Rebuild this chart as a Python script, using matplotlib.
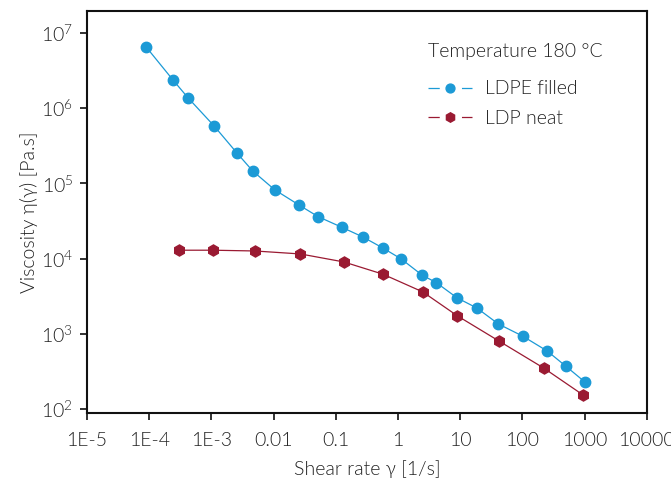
import matplotlib
matplotlib.use("Agg")
import matplotlib.pyplot as plt
from matplotlib.ticker import FixedLocator, NullLocator, LogFormatterMathtext

plt.rcParams['font.family'] = ['Lato', 'DejaVu Sans']
plt.rcParams['font.weight'] = 300
plt.rcParams['mathtext.default'] = 'regular'

# shear rate [1/s] and viscosity [Pa.s]
rate_filled = [8.9e-5, 2.4e-4, 4.2e-4, 1.1e-3, 2.6e-3, 4.6e-3, 1.04e-2, 2.6e-2,
               5.2e-2, 0.125, 0.27, 0.57, 1.12, 2.45, 4.1, 8.9, 18.5, 41.0,
               101.0, 250.0, 500.0, 1000.0]
visc_filled = [6.5e6, 2.37e6, 1.37e6, 5.8e5, 2.5e5, 1.46e5, 8.2e4, 5.1e4,
               3.6e4, 2.6e4, 1.94e4, 1.38e4, 9.9e3, 6.0e3, 4.8e3, 3.0e3,
               2.2e3, 1.35e3, 9.3e2, 5.9e2, 3.7e2, 2.3e2]

rate_neat = [3.0e-4, 1.05e-3, 5.0e-3, 2.7e-2, 0.135, 0.57, 2.5, 9.0, 42.0, 220.0, 950.0]
visc_neat = [1.29e4, 1.29e4, 1.26e4, 1.15e4, 9.0e3, 6.2e3, 3.6e3, 1.73e3, 8.0e2, 3.5e2, 1.53e2]

x_ticks = [1e-5, 1e-4, 1e-3, 1e-2, 1e-1, 1, 10, 100, 1000, 10000]
x_labels = ["1E-5", "1E-4", "1E-3", "0.01", "0.1", "1", "10", "100", "1000", "10000"]
y_ticks = [1e2, 1e3, 1e4, 1e5, 1e6, 1e7]

blue = "#1c9ad6"
red = "#9a1a32"
ink = "#222222"
lw = 0.9

fig = plt.figure(figsize=(6.71, 4.78), dpi=100)
ax = fig.add_axes([0.1297, 0.136, 0.8343, 0.841])

ax.plot(rate_filled, visc_filled, color=blue, lw=lw, marker='o', ms=7.5,
        mec=blue, mfc=blue, label="LDPE filled")
ax.plot(rate_neat, visc_neat, color=red, lw=lw, marker='h', ms=8,
        mec=red, mfc=red, label="LDP neat")

ax.set_xscale('log')
ax.set_yscale('log')
ax.set_xlim(1e-5, 1e4)
ax.set_ylim(10 ** 1.947, 10 ** 7.29)

ax.xaxis.set_major_locator(FixedLocator(x_ticks))
ax.set_xticklabels(x_labels)
ax.xaxis.set_minor_locator(NullLocator())
ax.yaxis.set_major_locator(FixedLocator(y_ticks))
ax.yaxis.set_major_formatter(LogFormatterMathtext())
ax.yaxis.set_minor_locator(NullLocator())

ax.tick_params(axis='both', direction='out', length=5, width=1.3, labelsize=14,
               colors=ink, pad=5)
ax.tick_params(axis='x', pad=9)
for s in ax.spines.values():
    s.set_linewidth(1.5)
    s.set_color('#111111')

ax.set_xlabel("Shear rate γ [1/s]", fontsize=14, color=ink, labelpad=8, fontweight=300)
ax.set_ylabel("Viscosity η(γ) [Pa.s]", fontsize=14, color=ink, labelpad=2, fontweight=300)

fs = 14
hl = 2.3
leg = ax.legend(title="Temperature 180 °C", loc='upper left',
                bbox_to_anchor=(0.577, 0.965), frameon=False,
                prop={'size': fs, 'weight': 300},
                title_fontproperties={'size': fs, 'weight': 300},
                handlelength=hl, labelspacing=0.65, handletextpad=0.65,
                markerscale=0.85)
leg._legend_box.align = "left"
leg._legend_box.sep = 15
leg.get_title().set_color(ink)
for t in leg.get_texts():
    t.set_color(ink)

# break the legend line around the marker
gap = 16.0
seg = (hl * fs - gap) / 2
for ln in leg.get_lines():
    ln.set_linestyle((0, (seg / lw, gap / lw, seg / lw, 200)))

fig.savefig("out.png", dpi=100)
